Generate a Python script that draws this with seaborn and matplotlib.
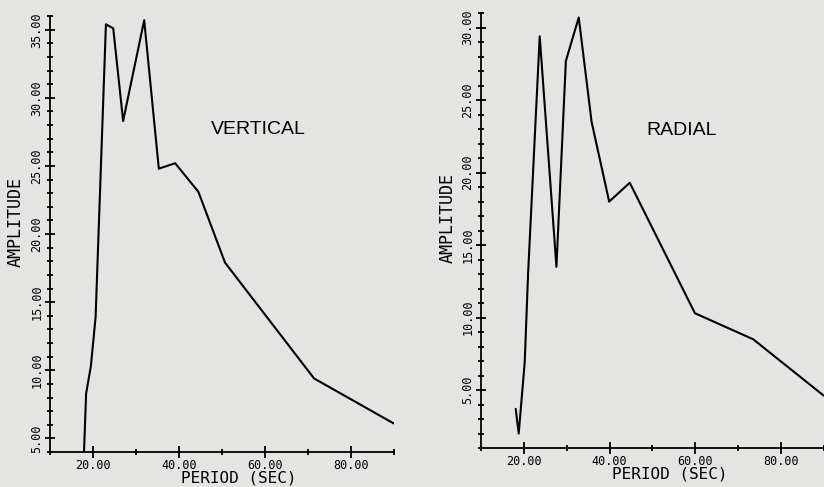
import numpy as np
import pandas as pd
import matplotlib
matplotlib.use("Agg")
import matplotlib.pyplot as plt
import seaborn as sns


# data (period in sec, amplitude)
vert_period = [17.9, 18.4, 19.5, 20.6, 23.0, 24.7, 27.0, 31.9, 35.3, 39.1, 44.5, 50.7, 71.4, 89.9]
vert_amp    = [4.0, 8.3, 10.3, 13.9, 35.4, 35.1, 28.3, 35.7, 24.8, 25.2, 23.1, 17.9, 9.4, 6.1]

rad_period = [18.1, 18.8, 20.2, 21.0, 23.7, 27.6, 29.8, 32.8, 35.8, 39.9, 44.7, 59.9, 73.5, 90.0]
rad_amp    = [3.7, 2.0, 6.9, 13.1, 29.4, 13.5, 27.7, 30.7, 23.5, 18.0, 19.3, 10.3, 8.5, 4.6]

x_major = [20, 40, 60, 80]
x_minor = [10, 30, 50, 70, 90]
vert_y_major = [5, 10, 15, 20, 25, 30, 35]
rad_y_major = [5, 10, 15, 20, 25, 30]

BG = "#e4e4e2"

sns.set_theme(style="ticks")
plt.rcParams["font.family"] = ["DejaVu Sans Mono"]
plt.rcParams["axes.facecolor"] = BG
plt.rcParams["figure.facecolor"] = BG
plt.rcParams["text.color"] = "black"
plt.rcParams["axes.labelcolor"] = "black"
plt.rcParams["xtick.color"] = "black"
plt.rcParams["ytick.color"] = "black"

fig = plt.figure(figsize=(8.24, 4.87), dpi=100)
ax1 = fig.add_axes([0.0607, 0.0719, 0.4175, 0.895])
ax2 = fig.add_axes([0.5837, 0.080, 0.4163, 0.893])


def style_panel(ax, df, ylim, ymajor, title, title_pos, ylabel_pos):
    sns.lineplot(data=df, x="period", y="amp", ax=ax, sort=False,
                 estimator=None, color="black", linewidth=1.5)
    ax.set_xlim(10, 90)
    ax.set_ylim(*ylim)
    for s in ["top", "right"]:
        ax.spines[s].set_visible(False)
    for s in ["left", "bottom"]:
        ax.spines[s].set_color("black")
        ax.spines[s].set_linewidth(1.3)

    ax.set_xticks(x_major)
    ax.set_xticklabels([f"{v:.2f}" for v in x_major], fontsize=8.5)
    ax.set_xticks(x_minor, minor=True)
    ax.set_yticks(ymajor)
    ax.set_yticklabels([f"{v:.2f}" for v in ymajor], fontsize=8.5,
                       rotation=90, va="center")
    ax.set_yticks(np.arange(ylim[0], ylim[1] + 1, 1), minor=True)

    ax.tick_params(axis="x", which="major", direction="inout", length=8.5,
                   width=1.3, pad=1)
    ax.tick_params(axis="x", which="minor", direction="inout", length=4.5,
                   width=1.3)
    ax.tick_params(axis="y", which="major", direction="inout", length=6.5,
                   width=1.3, pad=1.5)
    ax.tick_params(axis="y", which="minor", direction="inout", length=4.3,
                   width=1.3)

    ax.set_xlabel("PERIOD (SEC)", fontsize=11.5)
    ax.set_ylabel("AMPLITUDE", fontsize=12)
    ax.xaxis.set_label_coords(0.55, -0.043)
    ax.yaxis.set_label_coords(*ylabel_pos)
    ax.text(*title_pos, title, transform=ax.transAxes, fontsize=14,
            family="Liberation Sans", ha="center", va="center")


vert = pd.DataFrame({"period": vert_period, "amp": vert_amp})
rad = pd.DataFrame({"period": rad_period, "amp": rad_amp})

style_panel(ax1, vert, (4, 36), vert_y_major, "VERTICAL", (0.605, 0.739), (-0.075, 0.528))
style_panel(ax2, rad, (1, 31), rad_y_major, "RADIAL", (0.586, 0.731), (-0.072, 0.529))

fig.savefig("out.png", dpi=100, facecolor=BG)
